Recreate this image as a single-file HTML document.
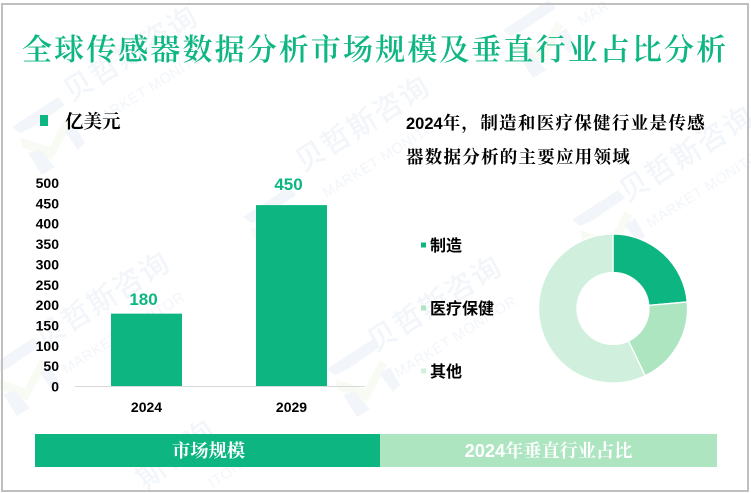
<!DOCTYPE html>
<html lang="zh-CN">
<head>
<meta charset="utf-8">
<title>全球传感器数据分析市场规模及垂直行业占比分析</title>
<style>
html,body{margin:0;padding:0;background:#fff}
body{width:751px;height:493px;overflow:hidden}
svg{display:block}
.serif{font-family:"Liberation Serif","Noto Serif CJK SC",serif}
.sans{font-family:"Liberation Sans","Noto Sans CJK SC",sans-serif}
.mix{font-family:"Liberation Sans","Noto Serif CJK SC",serif}
.wm{fill:#f2f5f9;font-family:"Liberation Sans","Noto Sans CJK SC",sans-serif;font-weight:500;font-size:29px;letter-spacing:1.5px}
.wm2{fill:#f2f5f9;font-family:"Liberation Sans",sans-serif;font-size:14.5px;letter-spacing:.6px}
</style>
</head>
<body>
<svg id="chart" width="751" height="493" viewBox="0 0 751 493" xmlns="http://www.w3.org/2000/svg">
  <rect x="0" y="0" width="751" height="493" fill="#ffffff"/>
  <defs>
    <g id="logo">
      <polygon points="12,42 58,12 65,20 33,42 20,48" fill="#f2f5f9"/>
      <polygon points="20,52 50,62 65,33 72,38 52,75 22,62" fill="#f8fbf3"/>
      <polygon points="28,68 40,65 55,82 42,90" fill="#f2f5f9"/>
      <polygon points="65,47 75,40 85,58 78,65" fill="#f2f5f9"/>
    </g>
  </defs>
  <g id="watermarks">
    <use href="#logo" x="0" y="85"/>
    <use href="#logo" x="491" y="-12"/>
    <use href="#logo" x="231" y="175"/>
    <use href="#logo" x="-25" y="326"/>
    <use href="#logo" x="315" y="327"/>
    <use href="#logo" x="560" y="178"/>
    <g transform="translate(136,62) rotate(-32)"><text class="wm" text-anchor="middle">贝哲斯咨询</text><text class="wm2" y="34" text-anchor="middle">MARKET MONITOR</text></g>
    <g transform="translate(368,132) rotate(-32)"><text class="wm" text-anchor="middle">贝哲斯咨询</text><text class="wm2" y="34" text-anchor="middle">MARKET MONITOR</text></g>
    <g transform="translate(108,308) rotate(-32)"><text class="wm" text-anchor="middle">贝哲斯咨询</text><text class="wm2" y="34" text-anchor="middle">MARKET MONITOR</text></g>
    <g transform="translate(440,312) rotate(-32)"><text class="wm" text-anchor="middle">贝哲斯咨询</text><text class="wm2" y="34" text-anchor="middle">MARKET MONITOR</text></g>
    <g transform="translate(692,162) rotate(-32)"><text class="wm" text-anchor="middle">贝哲斯咨询</text><text class="wm2" y="34" text-anchor="middle">MARKET MONITOR</text></g>
    <g transform="translate(182,462) rotate(-38)"><text class="wm" text-anchor="middle">斯咨询</text></g>
    <g transform="translate(228,478) rotate(-34)"><text class="wm2" text-anchor="middle">ITOR</text></g>
    <g transform="translate(596,17) rotate(-32)"><text class="wm2" text-anchor="middle">MAR</text></g>
  </g>
  <rect x="2" y="4" width="746" height="487" fill="none" stroke="#bfbfbf" stroke-width="2"/>

  <text class="serif" x="22" y="60" font-size="30" font-weight="600" letter-spacing="2.1" fill="#0db682">全球传感器数据分析市场规模及垂直行业占比分析</text>

  <rect x="40" y="115" width="8" height="11" fill="#0db680"/>
  <text class="serif" x="65" y="128" font-size="18.5" font-weight="700" fill="#000">亿美元</text>

  <text class="mix" x="406" y="129" font-size="17.5" font-weight="700" fill="#000"><tspan font-size="16.5">2024</tspan><tspan letter-spacing="1.3">年，制造和医疗保健行业是传感</tspan></text>
  <text class="mix" x="406" y="163" font-size="17.5" font-weight="700" letter-spacing="1.25" fill="#000">器数据分析的主要应用领域</text>

  <g id="bar-chart"></g>
  <g id="donut-chart"></g>
  <g id="donut-legend"></g>

  <rect x="35" y="434" width="345" height="33" fill="#0db680"/>
  <rect x="380" y="434" width="337" height="33" fill="#aee5c1"/>
  <text class="serif" x="208.5" y="457" font-size="18.3" font-weight="700" fill="#fff" text-anchor="middle">市场规模</text>
  <text class="mix" x="548.5" y="457" font-size="18.2" font-weight="700" fill="#fff" text-anchor="middle">2024年垂直行业占比</text>
</svg>
<script>
var barCategories = ['2024', '2029'];
var barValues = [180, 450];
var yTickLabels = [0, 50, 100, 150, 200, 250, 300, 350, 400, 450, 500];
var donutCategories = ['制造', '医疗保健', '其他'];
var donutValues = [23.6, 19.3, 57.1];
var donutColors = ['#0db680', '#aee5c1', '#d0f0dd'];

var NS = 'http://www.w3.org/2000/svg';
function make(tag, attrs, parent, text) {
  var el = document.createElementNS(NS, tag);
  for (var k in attrs) el.setAttribute(k, attrs[k]);
  if (text !== undefined) el.textContent = text;
  parent.appendChild(el);
  return el;
}

/* bar chart axes */
var plotLeft = 75, plotRight = 365, plotBottom = 386, plotTop = 185;
var yMax = yTickLabels[yTickLabels.length - 1];
function yScale(v) { return plotBottom - (v / yMax) * (plotBottom - plotTop); }
function tickBaseline(v) { return 391.5 - (v / yMax) * 203.5; }
function valueBaseline(v) { return 381.7 - v * 0.426; }
function xBand(i) { return plotLeft + (plotRight - plotLeft) * (i + 0.5) / barCategories.length; }
var barWidth = 71;
var barGroup = document.getElementById('bar-chart');

yTickLabels.forEach(function (t) {
  var el = make('text', {x: 59, y: tickBaseline(t), 'font-size': 14, 'font-weight': 700, 'text-anchor': 'end', fill: '#000', 'class': 'sans'}, barGroup, t);
  
  
});

barCategories.forEach(function (c, i) {
  var cx = xBand(i) - 1;
  var v = barValues[i];
  var bar = make('rect', {x: cx - barWidth / 2, y: yScale(v), width: barWidth, height: plotBottom - yScale(v), fill: '#0db680'}, barGroup);
  
  
  var val = make('text', {x: cx - 3, y: valueBaseline(v), 'font-size': 17, 'font-weight': 700, 'text-anchor': 'middle', fill: '#0db680', 'class': 'sans'}, barGroup, v);
  
  
  var lab = make('text', {x: cx, y: 412, 'font-size': 14, 'font-weight': 700, 'text-anchor': 'middle', fill: '#000', 'class': 'sans'}, barGroup, c);
  
  
});

var axis = make('line', {x1: plotLeft, x2: plotRight, y1: plotBottom + 0.5, y2: plotBottom + 0.5, stroke: '#d9d9d9', 'stroke-width': 1}, barGroup);



/* donut chart */
var donutCx = 613, donutCy = 308.5, donutOuter = 74.5, donutInner = 36;
var donutGroup = document.getElementById('donut-chart');
var donutTotal = donutValues.reduce(function (a, b) { return a + b; }, 0);
function polar(r, a) { return [donutCx + r * Math.sin(a), donutCy - r * Math.cos(a)]; }
var angle = 0;
donutValues.forEach(function (v, i) {
  var next = angle + v / donutTotal * Math.PI * 2;
  var large = next - angle > Math.PI ? 1 : 0;
  var a = polar(donutOuter, angle), b = polar(donutOuter, next), c = polar(donutInner, next), d = polar(donutInner, angle);
  var dStr = 'M' + a[0] + ' ' + a[1] + 'A' + donutOuter + ' ' + donutOuter + ' 0 ' + large + ' 1 ' + b[0] + ' ' + b[1] +
    'L' + c[0] + ' ' + c[1] + 'A' + donutInner + ' ' + donutInner + ' 0 ' + large + ' 0 ' + d[0] + ' ' + d[1] + 'Z';
  var slice = make('path', {d: dStr, fill: donutColors[i], stroke: '#fff', 'stroke-width': 1.3}, donutGroup);
  
  
  angle = next;
});

/* donut legend */
var legendGroup = document.getElementById('donut-legend');
donutCategories.forEach(function (c, i) {
  var ly = 245.5 + i * 63;
  var sw = make('rect', {x: 421, y: ly - 3, width: 5, height: 5, fill: donutColors[i]}, legendGroup);
  
  
  var t = make('text', {x: 430, y: ly + 5.5, 'font-size': 16, 'font-weight': 700, fill: '#000', 'class': 'sans'}, legendGroup, c);
  
  
});
</script>
</body>
</html>
